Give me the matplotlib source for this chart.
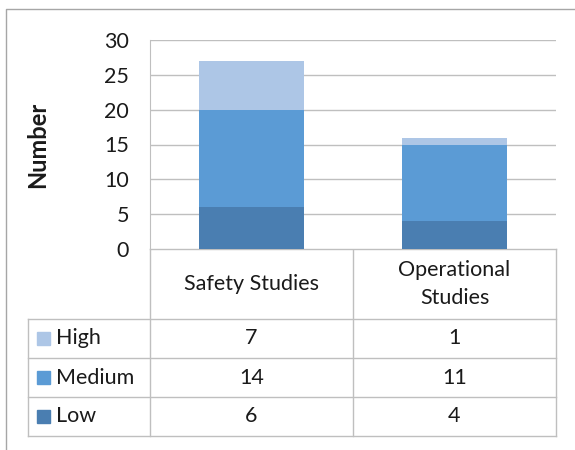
import matplotlib
matplotlib.use('Agg')
import matplotlib.pyplot as plt
from matplotlib.patches import Rectangle

# Data ===========================================
categories = ['Safety Studies', 'Operational\nStudies']
series     = ['High', 'Medium', 'Low']
low        = [6, 4]
medium     = [14, 11]
high       = [7, 1]
colors     = {'Low': '#4a7eb1', 'Medium': '#5b9bd5', 'High': '#adc6e6'}

W, H = 575, 450
grid_c = '#bfbfbf'
font = 'Lato'
fs = 15.5

fig = plt.figure(figsize=(W / 100, H / 100), dpi=100)
fig.patch.set_facecolor('white')

def fx(px):
    return px / W

def fy(py):
    return 1 - py / H

# chart-area border (cropped at right/bottom)
bg = fig.add_axes([0, 0, 1, 1])
bg.set_xlim(0, W)
bg.set_ylim(H, 0)
bg.axis('off')
bg.plot([6, 6, W], [H, 9, 9], color='#a6a6a6', lw=1)

# Plot area ======================================
L, R, T, B = 150, 556, 40, 249
ax = fig.add_axes([fx(L), fy(B), fx(R) - fx(L), fy(T) - fy(B)])
x = list(range(len(categories)))
ax.bar(x, low, width=0.52, color=colors['Low'], zorder=3)
ax.bar(x, medium, width=0.52, bottom=low, color=colors['Medium'], zorder=3)
ax.bar(x, high, width=0.52, bottom=[a + b for a, b in zip(low, medium)],
       color=colors['High'], zorder=3)
ax.set_xlim(-0.5, 1.5)
ax.set_ylim(0, 30)
ax.set_yticks(range(0, 31, 5))
ax.set_xticks([])
ax.yaxis.grid(True, color=grid_c, lw=1, zorder=0)
for s in ['top', 'right', 'bottom']:
    ax.spines[s].set_visible(False)
ax.spines['left'].set_color(grid_c)
ax.tick_params(axis='y', length=0, pad=15, labelsize=fs, labelcolor='#1a1a1a')
for lab in ax.get_yticklabels():
    lab.set_family(font)
ax.set_ylabel('Number', fontsize=17, fontweight='bold', family=font,
              labelpad=40, color='#1a1a1a')

# Data table =====================================
tl = bg
col_x = [28, L, 353, R]
head_b = 319
row_h = 39
rows_y = [head_b + i * row_h for i in range(len(series) + 1)]

# vertical lines
for xx in [L, 353, R]:
    tl.plot([xx, xx], [B, rows_y[-1]], color=grid_c, lw=1)
tl.plot([28, 28], [head_b, rows_y[-1]], color=grid_c, lw=1)
# horizontal lines
tl.plot([L, R], [B, B], color=grid_c, lw=1)
for yy in rows_y:
    tl.plot([28, R], [yy, yy], color=grid_c, lw=1)

# header labels
for i, c in enumerate(categories):
    cx = (col_x[i + 1] + col_x[i + 2]) / 2
    tl.text(cx, (B + head_b) / 2, c, ha='center', va='center', fontsize=fs,
            family=font, color='#1a1a1a', linespacing=1.45)

values = {'High': high, 'Medium': medium, 'Low': low}
for r, s in enumerate(series):
    cy = (rows_y[r] + rows_y[r + 1]) / 2
    tl.add_patch(Rectangle((37, cy - 6.5), 13, 13, color=colors[s]))
    tl.text(56, cy, s, ha='left', va='center', fontsize=fs, family=font,
            color='#1a1a1a')
    for i, v in enumerate(values[s]):
        cx = (col_x[i + 1] + col_x[i + 2]) / 2
        tl.text(cx, cy, str(v), ha='center', va='center', fontsize=fs,
                family=font, color='#1a1a1a')

fig.savefig('out.png', dpi=100, facecolor='white')
